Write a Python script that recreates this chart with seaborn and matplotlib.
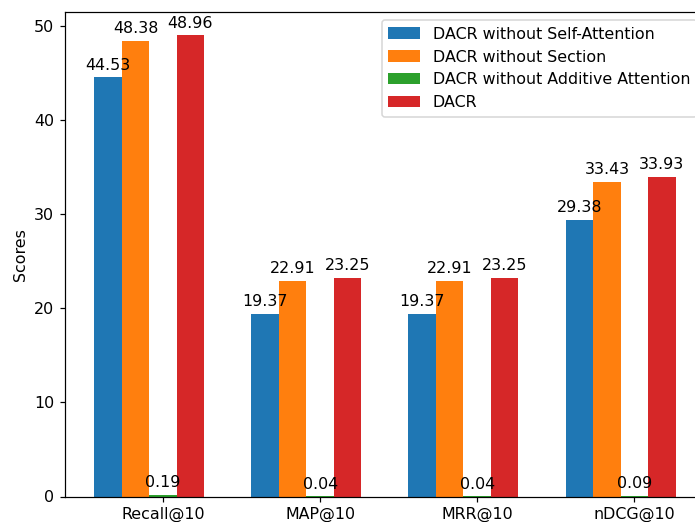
import matplotlib
matplotlib.use("Agg")
import matplotlib.pyplot as plt
import seaborn as sns
import pandas as pd
import numpy as np

metrics = ["Recall@10", "MAP@10", "MRR@10", "nDCG@10"]
models = ["DACR without Self-Attention", "DACR without Section",
          "DACR without Additive Attention", "DACR"]
no_self_attention = [44.53, 19.37, 19.37, 29.38]
no_section = [48.38, 22.91, 22.91, 33.43]
no_additive = [0.19, 0.04, 0.04, 0.09]
dacr = [48.96, 23.25, 23.25, 33.93]
colors = ["#1f77b4", "#ff7f0e", "#2ca02c", "#d62728"]

series = [no_self_attention, no_section, no_additive, dacr]
rows = []
for m, vals in zip(models, series):
    for met, v in zip(metrics, vals):
        rows.append({"Metric": met, "Model": m, "Score": v})
df = pd.DataFrame(rows)

plt.rcParams["font.size"] = 10.4

DPI = 110
fig = plt.figure(figsize=(695 / DPI, 522 / DPI), dpi=DPI)
ax = fig.add_axes([65 / 695, 25.5 / 522, (704.7 - 65) / 695, (496.5 - 12.3) / 522])

sns.barplot(data=df, x="Metric", y="Score", hue="Model", order=metrics,
            hue_order=models, palette=colors, saturation=1, width=0.7,
            ax=ax, errorbar=None)

for c in ax.containers:
    ax.bar_label(c, fmt="%.2f", padding=3)

w = 0.7 / 4
ax.set_xticks(np.arange(len(metrics)) + w / 2)
ax.set_xticklabels(metrics)
ax.set_xlim(w / 2 - 0.6234, 3 + w / 2 + 0.4475)
ax.set_ylim(0, 51.41)
ax.set_xlabel("")
ax.set_ylabel("Scores")
ax.legend(loc="upper right")

fig.savefig("out.png", dpi=DPI)
